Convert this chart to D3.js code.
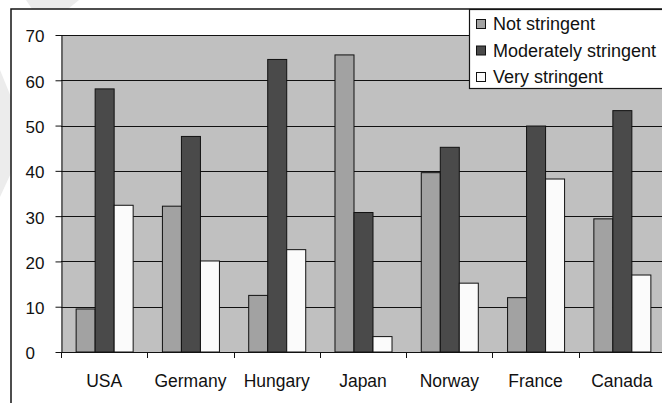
<!DOCTYPE html>
<html>
<head>
<meta charset="utf-8">
<script src="https://cdn.jsdelivr.net/npm/d3@7"></script>
<style>
  html, body { margin: 0; padding: 0; background: #fff; }
  svg { display: block; font-family: "Liberation Sans", Arial, sans-serif; }
</style>
</head>
<body>
<svg id="chart" width="662" height="403"></svg>
<script>
// Share of respondents by stringency level, per country
const countries = ["USA", "Germany", "Hungary", "Japan", "Norway", "France", "Canada"];
const seriesNames = ["Not stringent", "Moderately stringent", "Very stringent"];
const notStringent = [9.5, 32.2, 12.5, 65.6, 39.6, 12.0, 29.4];
const moderatelyStringent = [58.1, 47.6, 64.6, 30.8, 45.2, 49.9, 53.3];
const veryStringent = [32.4, 20.1, 22.6, 3.4, 15.2, 38.2, 17.0];
const yTicks = [0, 10, 20, 30, 40, 50, 60, 70];

const seriesValues = [notStringent, moderatelyStringent, veryStringent];
const colors = ["#a2a2a2", "#4a4a4a", "#fbfbfb"];

const svg = d3.select("#chart");

// faint background shapes behind the chart frame
svg.append("polygon")
  .attr("points", "26,0 79,0 68,9 32,9")
  .attr("fill", "#ececec");
svg.append("polygon")
  .attr("points", "0,70 11,97 11,173 0,197")
  .attr("fill", "#ececec");

// chart frame
svg.append("rect")
  .attr("x", 11).attr("y", 9)
  .attr("width", 700).attr("height", 450)
  .attr("fill", "#fff")
  .attr("stroke", "#151515")
  .attr("stroke-width", 1.5);

const plot = { left: 61, right: 665, top: 35, bottom: 352 };

const x0 = d3.scaleBand().domain(countries).range([plot.left, plot.right]).padding(0);
const x1 = d3.scaleBand().domain(seriesNames).range([0, x0.bandwidth()])
  .paddingInner(0).paddingOuter(0.77);
const y = d3.scaleLinear().domain([0, 70]).range([plot.bottom, plot.top]);

// plot background
svg.append("rect")
  .attr("x", plot.left).attr("y", plot.top)
  .attr("width", plot.right - plot.left).attr("height", plot.bottom - plot.top)
  .attr("fill", "#c0c0c0");

// horizontal gridlines
svg.append("g")
  .selectAll("line")
  .data(yTicks.filter(d => d > 0))
  .join("line")
  .attr("x1", plot.left).attr("x2", plot.right)
  .attr("y1", d => Math.round(y(d)) + 0.5).attr("y2", d => Math.round(y(d)) + 0.5)
  .attr("stroke", "#111").attr("stroke-width", 1);

// bars
const groups = svg.append("g")
  .selectAll("g")
  .data(countries)
  .join("g")
  .attr("transform", d => `translate(${x0(d)},0)`);

groups.selectAll("rect")
  .data((c, i) => seriesNames.map((s, k) => ({ s, k, v: seriesValues[k][i] })))
  .join("rect")
  .attr("x", d => x1(d.s) + 0.5)
  .attr("y", d => y(d.v))
  .attr("width", x1.bandwidth())
  .attr("height", d => y(0) - y(d.v))
  .attr("fill", d => colors[d.k])
  .attr("stroke", "#111")
  .attr("stroke-width", 1);

// y axis
const yAxis = svg.append("g")
  .attr("transform", `translate(${plot.left + 0.5},0)`)
  .call(d3.axisLeft(y).tickValues(yTicks).tickSize(6).tickSizeOuter(0));
yAxis.select(".domain").attr("stroke", "#111");
yAxis.selectAll(".tick line").attr("stroke", "#111");
yAxis.selectAll(".tick text")
  .attr("text-anchor", "start")
  .attr("x", -36)
  .attr("dy", "0.41em")
  .attr("font-size", 17)
  .attr("fill", "#111");

// x axis: baseline, category boundary ticks and labels
svg.append("line")
  .attr("x1", plot.left).attr("x2", plot.right)
  .attr("y1", plot.bottom + 0.5).attr("y2", plot.bottom + 0.5)
  .attr("stroke", "#111");

const boundaries = countries.map(c => x0(c)).concat([plot.right]);
svg.append("g")
  .selectAll("line")
  .data(boundaries)
  .join("line")
  .attr("x1", d => Math.round(d) + 0.5).attr("x2", d => Math.round(d) + 0.5)
  .attr("y1", plot.bottom).attr("y2", plot.bottom + 6)
  .attr("stroke", "#111");

const xAxis = svg.append("g")
  .attr("transform", `translate(0,${plot.bottom})`)
  .call(d3.axisBottom(x0).tickSize(0).tickPadding(0));
xAxis.select(".domain").remove();
xAxis.selectAll(".tick text")
  .attr("y", 35)
  .attr("dy", null)
  .attr("font-size", 17.5)
  .attr("fill", "#111");

// legend
const legend = svg.append("g");
legend.append("rect")
  .attr("x", 469.5).attr("y", 9.5)
  .attr("width", 220).attr("height", 79)
  .attr("fill", "#fff")
  .attr("stroke", "#151515")
  .attr("stroke-width", 1.2);

const items = legend.selectAll("g.item")
  .data(seriesNames)
  .join("g")
  .attr("class", "item")
  .attr("transform", (d, i) => `translate(0,${i * 26.5})`);
items.append("rect")
  .attr("x", 476.5).attr("y", 19.5)
  .attr("width", 9).attr("height", 9)
  .attr("fill", (d, i) => colors[i])
  .attr("stroke", "#111");
items.append("text")
  .attr("x", 493).attr("y", 30)
  .attr("font-size", 18)
  .attr("fill", "#111")
  .text(d => d);
</script>
</body>
</html>
